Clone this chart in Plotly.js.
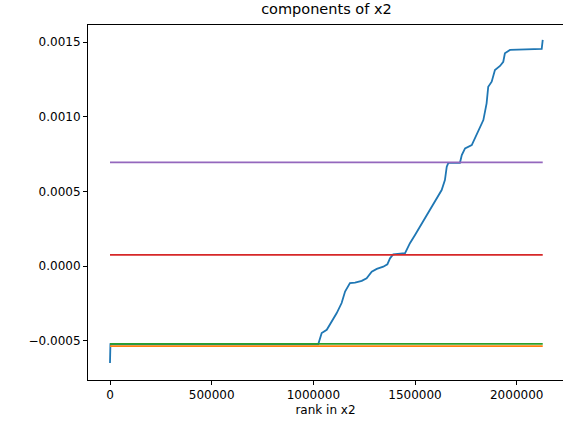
<!DOCTYPE html>
<html>
<head>
<meta charset="utf-8">
<script src="https://cdn.plot.ly/plotly-3.0.1.min.js"></script>
<style>html,body{margin:0;padding:0;background:#fff;}#chart{width:563px;height:424px;}</style>
</head>
<body>
<div id="chart"></div>
<script>
// rank positions and values of the sorted x2 component (blue)
const rankX = [0, 2000, 1024000, 1041000, 1066000, 1090000, 1115000, 1139000, 1156000, 1180000, 1205000,
  1238000, 1262000, 1287000, 1312000, 1344000, 1364000, 1377000, 1393000, 1451000, 1475000, 1500000,
  1533000, 1565000, 1598000, 1631000, 1647000, 1656000, 1664000, 1721000, 1730000, 1746000, 1779000,
  1795000, 1811000, 1836000, 1852000, 1860000, 1877000, 1893000, 1918000, 1934000, 1942000, 1967000,
  2123000, 2128000];
const x2Sorted = [-0.000647, -0.000521, -0.000522, -0.000447, -0.000425, -0.000369, -0.000313, -0.000246,
  -0.000169, -0.000113, -0.000109, -0.000098, -0.000080, -0.000036, -0.000018, -0.000003, 0.000013,
  0.000053, 0.000080, 0.000087, 0.000154, 0.000209, 0.000287, 0.000354, 0.000432, 0.000510, 0.000577,
  0.000666, 0.000692, 0.000692, 0.000744, 0.000789, 0.000811, 0.000856, 0.000900, 0.000978, 0.001090,
  0.001201, 0.001235, 0.001313, 0.001340, 0.001368, 0.001425, 0.001447, 0.001454, 0.001515];
// constant components (horizontal lines)
const lineRange = [0, 2128000];
const orangeVal = -0.000535;
const greenVal = -0.000519;
const redVal = 0.0000767;
const purpleVal = 0.000695;
// ticks
const yTickVals = [-0.0005, 0.0, 0.0005, 0.0010, 0.0015];
const yTickText = ["\u22120.0005", "0.0000", "0.0005", "0.0010", "0.0015"];
const xTickVals = [0, 500000, 1000000, 1500000, 2000000];
const xTickText = ["0", "500000", "1000000", "1500000", "2000000"];

const lw = 1.8;
const traces = [
  {x: rankX, y: x2Sorted, color: '#1f77b4'},
  {x: lineRange, y: [orangeVal, orangeVal], color: '#ff7f0e'},
  {x: lineRange, y: [greenVal, greenVal], color: '#2ca02c'},
  {x: lineRange, y: [redVal, redVal], color: '#d62728'},
  {x: lineRange, y: [purpleVal, purpleVal], color: '#9467bd'}
].map(t => ({x: t.x, y: t.y, type: 'scatter', mode: 'lines', line: {color: t.color, width: lw}, hoverinfo: 'skip'}));

const font = {family: 'DejaVu Sans, sans-serif', size: 12, color: '#000'};
const layout = {
  width: 563, height: 424,
  margin: {l: 88, r: 0, t: 25, b: 44, pad: 0},
  paper_bgcolor: '#fff', plot_bgcolor: '#fff',
  showlegend: false,
  font: font,
  title: {text: 'components of x2', font: {family: 'DejaVu Sans, sans-serif', size: 14.5, color: '#000'},
    x: 0.502, xref: 'paper', xanchor: 'center', y: 1, yref: 'container', yanchor: 'top', pad: {t: 4}},
  xaxis: {
    range: [-108200, 2227700], showgrid: false, zeroline: false,
    showline: true, linecolor: '#000', linewidth: 1, mirror: true,
    ticks: 'outside', ticklen: 4, tickwidth: 1, tickcolor: '#000',
    tickvals: xTickVals, ticktext: xTickText, tickfont: font,
    title: {text: 'rank in x2', font: font, standoff: 4}
  },
  yaxis: {
    range: [-0.000761, 0.001614], showgrid: false, zeroline: false,
    showline: true, linecolor: '#000', linewidth: 1, mirror: false,
    ticks: 'outside', ticklen: 4, tickwidth: 1, tickcolor: '#000',
    tickvals: yTickVals, ticktext: yTickText, tickfont: font
  }
};
Plotly.newPlot('chart', traces, layout, {staticPlot: true, displayModeBar: false});
</script>
</body>
</html>
